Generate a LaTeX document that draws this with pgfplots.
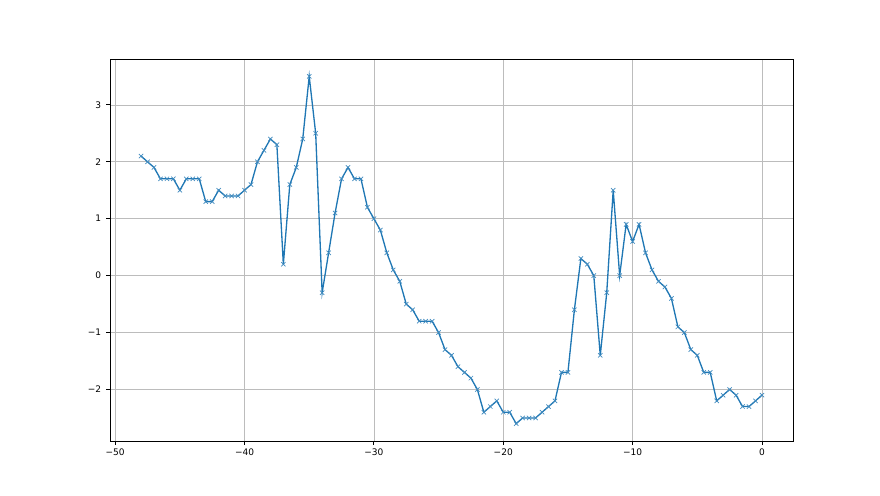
\documentclass[border=0pt]{standalone}
\usepackage{pgfplots}
\pgfplotsset{compat=1.18}
\usepackage{fontspec}
\setmainfont{DejaVu Sans}
\definecolor{mplblue}{HTML}{1F77B4}
\definecolor{gridgray}{HTML}{B0B0B0}
\begin{document}
\begin{tikzpicture}
\path[use as bounding box] (-79.2pt,-38.88pt) rectangle ++(633.6pt,356.4pt);
\begin{axis}[
  at={(0pt,0pt)}, anchor=south west,
  scale only axis, width=491.76pt, height=275.04pt,
  xmin=-50.4, xmax=2.4, ymin=-2.905, ymax=3.805,
  xtick={-50,-40,-30,-20,-10,0},
  xticklabels={−50,−40,−30,−20,−10,0},
  ytick={-2,-1,0,1,2,3},
  yticklabels={−2,−1,0,1,2,3},
  grid=major,
  major grid style={draw=gridgray!85, line width=0.45pt},
  axis line style={line width=0.6pt, black},
  tick style={black, line width=0.6pt},
  tick align=outside, major tick length=2.8pt,
  tick pos=left,
  ticklabel style={font=\fontsize{6.5}{8}\selectfont},
  xticklabel style={yshift=1pt},
]
\addplot[mplblue, line width=0.95pt, mark=x, mark size=2.2pt, mark options={line width=0.5pt, draw=mplblue!85}] coordinates {
(-48,2.1) (-47.5,2.0) (-47,1.9) (-46.5,1.7) (-46,1.7) (-45.5,1.7) (-45,1.5) (-44.5,1.7) (-44,1.7) (-43.5,1.7)
(-43,1.3) (-42.5,1.3) (-42,1.5) (-41.5,1.4) (-41,1.4) (-40.5,1.4) (-40,1.5) (-39.5,1.6) (-39,2.0) (-38.5,2.2)
(-38,2.4) (-37.5,2.3) (-37,0.2) (-36.5,1.6) (-36,1.9) (-35.5,2.4) (-35,3.5) (-34.5,2.5) (-34,-0.3) (-33.5,0.4)
(-33,1.1) (-32.5,1.7) (-32,1.9) (-31.5,1.7) (-31,1.7) (-30.5,1.2) (-30,1.0) (-29.5,0.8) (-29,0.4) (-28.5,0.1)
(-28,-0.1) (-27.5,-0.5) (-27,-0.6) (-26.5,-0.8) (-26,-0.8) (-25.5,-0.8) (-25,-1.0) (-24.5,-1.3) (-24,-1.4) (-23.5,-1.6)
(-23,-1.7) (-22.5,-1.8) (-22,-2.0) (-21.5,-2.4) (-21,-2.3) (-20.5,-2.2) (-20,-2.4) (-19.5,-2.4) (-19,-2.6) (-18.5,-2.5)
(-18,-2.5) (-17.5,-2.5) (-17,-2.4) (-16.5,-2.3) (-16,-2.2) (-15.5,-1.7) (-15,-1.7) (-14.5,-0.6) (-14,0.3) (-13.5,0.2)
(-13,0.0) (-12.5,-1.4) (-12,-0.3) (-11.5,1.5) (-11,0.0) (-10.5,0.9) (-10,0.6) (-9.5,0.9) (-9,0.4) (-8.5,0.1)
(-8,-0.1) (-7.5,-0.2) (-7,-0.4) (-6.5,-0.9) (-6,-1.0) (-5.5,-1.3) (-5,-1.4) (-4.5,-1.7) (-4,-1.7) (-3.5,-2.2)
(-3,-2.1) (-2.5,-2.0) (-2,-2.1) (-1.5,-2.3) (-1,-2.3) (-0.5,-2.2) (0,-2.1)
};
\end{axis}
\end{tikzpicture}
\end{document}
